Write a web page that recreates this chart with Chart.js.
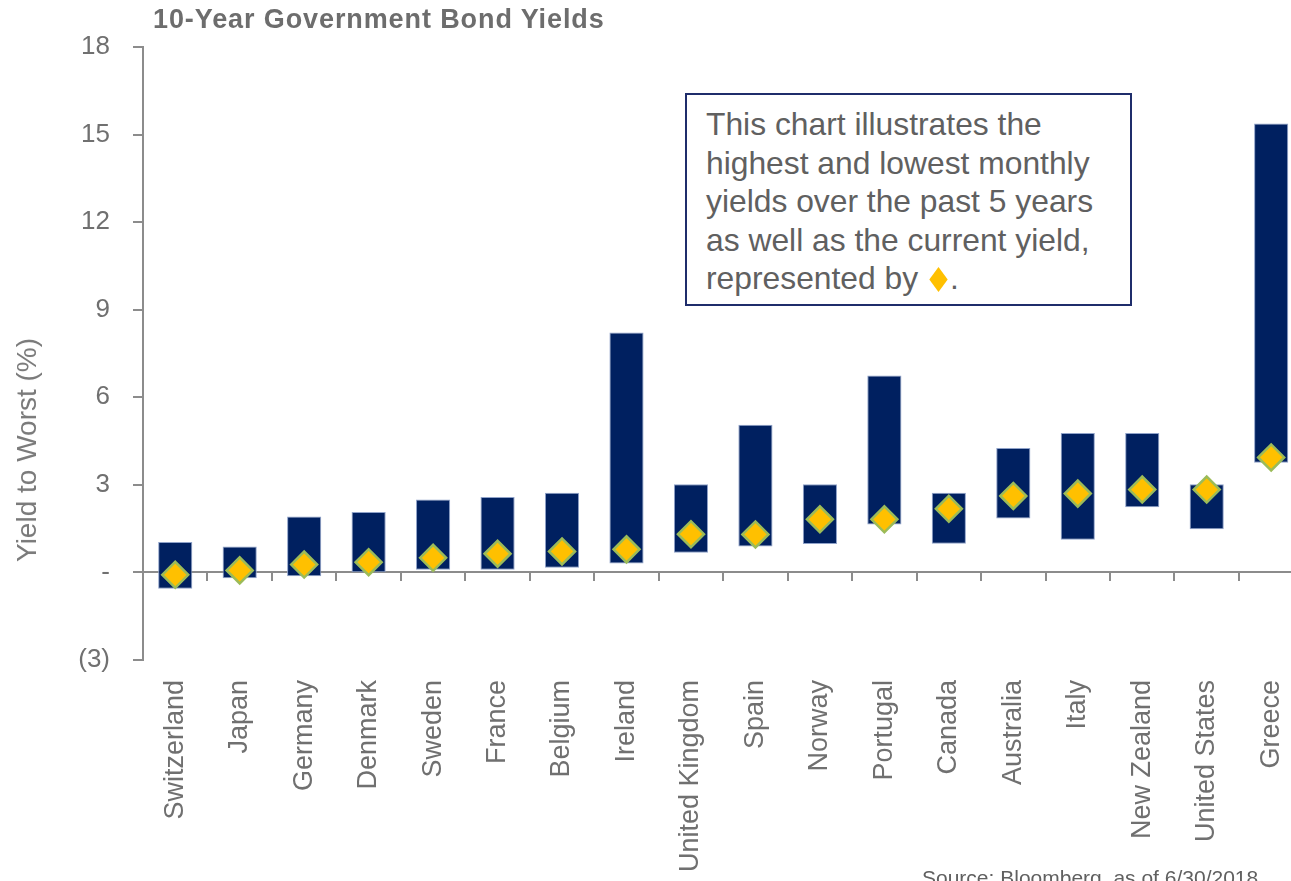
<!DOCTYPE html>
<html>
<head>
<meta charset="utf-8">
<script src="https://cdn.jsdelivr.net/npm/chart.js@4.4.1/dist/chart.umd.min.js"></script>
<style>
  html, body { margin: 0; padding: 0; background: #fff; overflow: hidden; }
  body { width: 1291px; height: 881px; position: relative; font-family: "Liberation Sans", Arial, sans-serif; }
  #wrap { position: absolute; left: 0; top: 0; width: 1324px; height: 881px; }
  .title { position: absolute; left: 153px; top: 4px; font-size: 27px; font-weight: bold; color: #6d6d6d;
           white-space: nowrap; letter-spacing: 0.9px; }
  .ytitle { position: absolute; left: 27px; top: 450px; font-size: 28px; color: #7a7a7a; white-space: nowrap;
            transform: translate(-50%, -50%) rotate(-90deg); }
  .note { position: absolute; left: 685px; top: 93px; width: 443px; height: 209px; border: 2px solid #1f2d6b;
          box-sizing: content-box; background: #fff; }
  .note div { position: absolute; left: 19px; top: 10px; font-size: 31.8px; line-height: 38.5px; color: #606060; white-space: nowrap; }
  .note span { display: inline-block; width: 13px; height: 13px; background: #ffc000; transform: scaleY(1.35) rotate(45deg);
               margin: 0 5px 0 5px; vertical-align: 3px; }
  .source { position: absolute; left: 922px; top: 866px; font-size: 21px; color: #606060; white-space: nowrap; }
</style>
</head>
<body>
<div id="wrap"><canvas id="bondChart" width="1324" height="881"></canvas></div>
<div class="title">10-Year Government Bond Yields</div>
<div class="ytitle">Yield to Worst (%)</div>
<div class="note"><div>This chart illustrates the<br>highest and lowest monthly<br>yields over the past 5 years<br>as well as the current yield,<br>represented by <span></span>.</div></div>
<div class="source">Source: Bloomberg, as of 6/30/2018</div>
<script>
const countries = ['Switzerland', 'Japan', 'Germany', 'Denmark', 'Sweden', 'France', 'Belgium', 'Ireland',
  'United Kingdom', 'Spain', 'Norway', 'Portugal', 'Canada', 'Australia', 'Italy', 'New Zealand',
  'United States', 'Greece'];
const lowYield = [-0.56, -0.20, -0.13, 0.01, 0.09, 0.09, 0.16, 0.31, 0.67, 0.89, 0.97, 1.64, 0.98, 1.85, 1.12, 2.23, 1.48, 3.76];
const highYield = [1.04, 0.89, 1.92, 2.07, 2.50, 2.58, 2.73, 8.22, 3.02, 5.06, 3.02, 6.75, 2.73, 4.26, 4.78, 4.78, 3.02, 15.38];
const currentYield = [-0.08, 0.07, 0.27, 0.35, 0.50, 0.64, 0.72, 0.79, 1.31, 1.30, 1.82, 1.82, 2.18, 2.62, 2.70, 2.84, 2.84, 3.94];
const yTicks = [-3, 0, 3, 6, 9, 12, 15, 18];

const axisGray = '#8c8c8c';
const textGray = '#707070';

const ctx = document.getElementById('bondChart').getContext('2d');
new Chart(ctx, {
  data: {
    labels: countries,
    datasets: [{
      type: 'line',
      label: 'Current',
      data: currentYield,
      showLine: false,
      pointStyle: 'rectRot',
      pointRadius: 13,
      pointBackgroundColor: '#ffc000',
      pointBorderColor: '#9bbb59',
      pointBorderWidth: 2.5
    }, {
      type: 'bar',
      label: 'Range',
      data: countries.map((c, i) => [lowYield[i], highYield[i]]),
      backgroundColor: '#002060',
      borderColor: '#8fa2c9',
      borderWidth: 1,
      borderSkipped: false,
      barPercentage: 0.53,
      categoryPercentage: 1
    }]
  },
  options: {
    responsive: false,
    animation: false,
    devicePixelRatio: 1,
    layout: { padding: { top: 47, right: 0, left: 0, bottom: 0 } },
    plugins: {
      legend: { display: false },
      tooltip: { enabled: false }
    },
    scales: {
      x: {
        type: 'category',
        position: 'bottom',
        offset: true,
        grid: { display: false, drawTicks: false },
        border: { display: false },
        ticks: {
          color: textGray,
          font: { family: 'Liberation Sans', size: 27 },
          minRotation: 90,
          maxRotation: 90,
          padding: 20,
          autoSkip: false
        },
        afterFit(scale) { scale.height = 221; }
      },
      x2: {
        type: 'category',
        position: { y: 0 },
        offset: true,
        grid: {
          offset: true,
          drawOnChartArea: false,
          drawTicks: true,
          tickLength: 8,
          color: axisGray,
          lineWidth: 2
        },
        border: { display: true, color: axisGray, width: 2 },
        ticks: { display: false }
      },
      y: {
        min: -3,
        max: 18,
        afterBuildTicks(scale) { scale.ticks = yTicks.map(v => ({ value: v })); },
        grid: {
          drawOnChartArea: false,
          drawTicks: true,
          tickLength: 10,
          color: axisGray,
          lineWidth: 2
        },
        border: { display: true, color: axisGray, width: 2 },
        ticks: {
          color: textGray,
          font: { family: 'Liberation Sans', size: 26 },
          padding: 23,
          callback: v => v === 0 ? '-' : v < 0 ? '(' + (-v) + ')' : v
        },
        afterFit(scale) { scale.width = 143; }
      }
    }
  }
});
</script>
</body>
</html>
